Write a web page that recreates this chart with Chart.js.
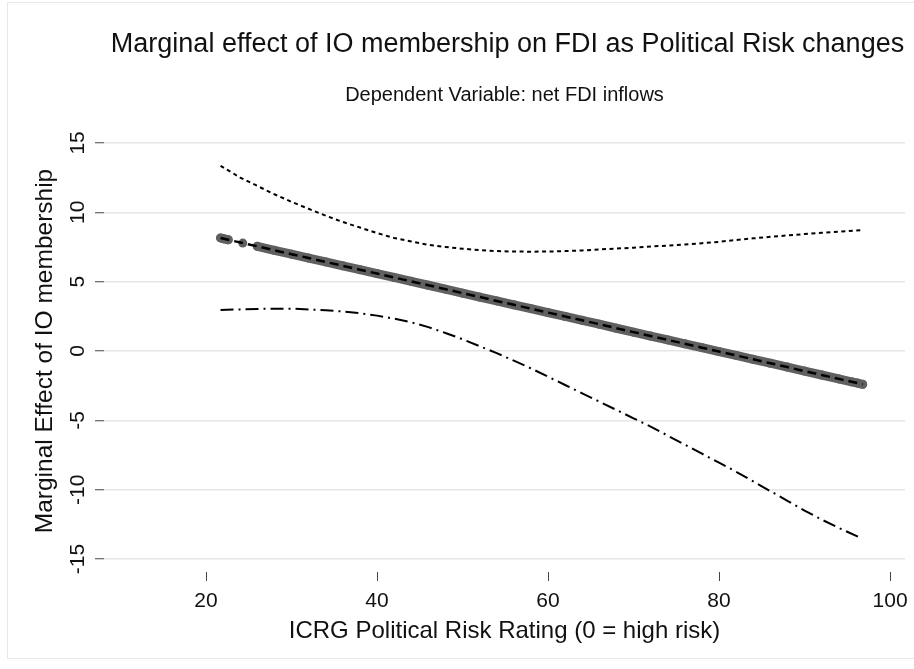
<!DOCTYPE html>
<html>
<head>
<meta charset="utf-8">
<title>Marginal effect of IO membership on FDI</title>
<script src="https://cdn.jsdelivr.net/npm/chart.js@4.4.0/dist/chart.umd.min.js"></script>
<style>
    html, body { margin: 0; padding: 0; background: #fff; }
    #wrap { width: 914px; height: 669px; }
</style>
</head>
<body>
<div id="wrap"><canvas id="effectGraph" width="914" height="669"></canvas></div>
<script>
// texts
const chartTitle = 'Marginal effect of IO membership on FDI as Political Risk changes';
const chartSubtitle = 'Dependent Variable: net FDI inflows';
const xTitle = 'ICRG Political Risk Rating (0 = high risk)';
const yTitle = 'Marginal Effect of IO membership';

// tick values
const xTicks = [20, 40, 60, 80, 100];
const yTicks = [-15, -10, -5, 0, 5, 10, 15];

// marginal effect at the observed risk ratings (grey markers + dashed fit)
const riskX = [21.7, 22.1, 22.6, 24.3, 26, 28, 30, 32, 34, 36, 38, 40, 42, 44, 46, 48, 50, 52, 54, 56,
    58, 60, 62, 64, 66, 68, 70, 72, 74, 76, 78, 80, 82, 84, 86, 88, 90, 92, 94, 95.5, 96.2, 96.8];
const effectY = [8.15, 8.09, 8.02, 7.78, 7.55, 7.26, 6.98, 6.70, 6.42, 6.14, 5.86, 5.58, 5.30, 5.02, 4.74, 4.46, 4.17, 3.89, 3.61, 3.33,
    3.05, 2.77, 2.49, 2.21, 1.93, 1.64, 1.36, 1.08, 0.80, 0.52, 0.24, -0.04, -0.32, -0.60, -0.88, -1.16, -1.45, -1.73, -2.01, -2.22, -2.31, -2.40];
// observations that stand apart from the dense band (by index in riskX)
const isolatedFrom = 2;
const isolatedTo = 4;

// upper bound (short dashes)
const upperX = [21.7, 24, 26, 28, 30, 32, 34, 36, 38, 40, 42, 44, 46, 48, 50, 52, 54, 56, 58, 60,
    62, 64, 66, 68, 70, 72, 74, 76, 78, 80, 82, 84, 86, 88, 90, 92, 94, 96.8];
const upperY = [13.35, 12.5, 11.9, 11.3, 10.75, 10.25, 9.75, 9.3, 8.9, 8.5, 8.15, 7.9, 7.65, 7.5, 7.37, 7.28, 7.2, 7.17, 7.16, 7.17,
    7.2, 7.25, 7.32, 7.38, 7.45, 7.53, 7.6, 7.68, 7.77, 7.87, 8.0, 8.12, 8.23, 8.33, 8.43, 8.52, 8.6, 8.72];

// lower bound (dash-dot)
const lowerX = [21.7, 24, 26, 28, 30, 32, 34, 36, 38, 40, 42, 44, 46, 48, 50, 52, 54, 56, 58, 60,
    62, 64, 66, 68, 70, 72, 74, 76, 78, 80, 82, 84, 86, 88, 90, 92, 94, 96.3];
const lowerY = [2.95, 3.0, 3.03, 3.05, 3.05, 3.0, 2.93, 2.85, 2.72, 2.55, 2.33, 2.07, 1.72, 1.3, 0.85, 0.35, -0.15, -0.7, -1.25, -1.85,
    -2.45, -3.05, -3.65, -4.25, -4.85, -5.45, -6.1, -6.75, -7.4, -8.05, -8.7, -9.4, -10.1, -10.8, -11.5, -12.15, -12.75, -13.4];

const fontFamily = '"Liberation Sans", Arial, Helvetica, sans-serif';
const markerGrey = '#606060';

function toPoints(xs, ys) {
    return xs.map(function (x, i) { return { x: x, y: ys[i] }; });
}

// white background, faint frame and the two titles
const titlePlugin = {
    id: 'graphTitles',
    beforeDraw: function (chart) {
        const ctx = chart.ctx;
        ctx.save();
        ctx.fillStyle = '#ffffff';
        ctx.fillRect(0, 0, chart.width, chart.height);
        ctx.strokeStyle = '#e8e8e8';
        ctx.lineWidth = 1;
        ctx.strokeRect(7.5, 2.5, 1000, 656);
        const mid = (chart.chartArea.left + chart.chartArea.right) / 2;
        ctx.fillStyle = '#111111';
        ctx.textAlign = 'center';
        ctx.textBaseline = 'alphabetic';
        ctx.font = '27px ' + fontFamily;
        ctx.fillText(chartTitle, mid + 3, 52);
        ctx.font = '20px ' + fontFamily;
        ctx.fillText(chartSubtitle, mid, 100.5);
        ctx.restore();
    }
};

const ctx = document.getElementById('effectGraph').getContext('2d');
new Chart(ctx, {
    type: 'scatter',
    data: {
        datasets: [{
            // upper bound
            data: toPoints(upperX, upperY),
            showLine: true,
            borderColor: '#000000',
            borderWidth: 2,
            borderDash: [4, 3.5],
            pointRadius: 0,
            order: 1
        }, {
            // lower bound
            data: toPoints(lowerX, lowerY),
            showLine: true,
            borderColor: '#000000',
            borderWidth: 2,
            borderDash: [13, 5, 2, 5],
            pointRadius: 0,
            order: 1
        }, {
            // fitted marginal effect
            data: toPoints(riskX, effectY),
            showLine: true,
            borderColor: '#000000',
            borderWidth: 2.5,
            borderDash: [9, 5],
            pointRadius: 0,
            order: 2
        }, {
            // observations: dense markers form a band, gaps stay open
            data: toPoints(riskX, effectY),
            showLine: true,
            borderColor: markerGrey,
            borderWidth: 9,
            borderCapStyle: 'round',
            segment: {
                borderColor: function (c) {
                    return (c.p0DataIndex >= isolatedFrom && c.p1DataIndex <= isolatedTo) ? 'rgba(0,0,0,0)' : markerGrey;
                }
            },
            pointRadius: 4.5,
            pointBorderWidth: 0,
            pointBackgroundColor: markerGrey,
            order: 3
        }]
    },
    options: {
        responsive: false,
        animation: false,
        devicePixelRatio: 1,
        layout: { padding: { top: 130, right: 9, bottom: 0, left: 0 } },
        plugins: {
            legend: { display: false },
            tooltip: { enabled: false }
        },
        scales: {
            x: {
                type: 'linear',
                min: 8.07,
                max: 101.75,
                afterBuildTicks: function (s) { s.ticks = xTicks.map(function (v) { return { value: v }; }); },
                afterFit: function (s) { s.height = 97; s.paddingLeft = 0; s.paddingRight = 0; },
                border: { display: false },
                grid: { drawOnChartArea: false, drawTicks: true, tickLength: 9, tickColor: '#444444', tickWidth: 1 },
                ticks: { padding: 8, color: '#111111', maxRotation: 0, font: { family: fontFamily, size: 21 } },
                title: {
                    display: true, text: xTitle, color: '#111111',
                    font: { family: fontFamily, size: 24 },
                    padding: { top: 0, bottom: 23 }
                }
            },
            y: {
                type: 'linear',
                min: -15.93,
                max: 15.93,
                afterBuildTicks: function (s) { s.ticks = yTicks.map(function (v) { return { value: v }; }); },
                afterFit: function (s) { s.width = 104; s.paddingTop = 0; s.paddingBottom = 0; },
                border: { display: false },
                grid: { color: '#e6e6e6', lineWidth: 1.5, tickLength: 9, tickColor: '#444444', tickWidth: 1 },
                ticks: {
                    padding: 2, color: '#111111', minRotation: 90, maxRotation: 90, crossAlign: 'center',
                    font: { family: fontFamily, size: 21 }
                },
                title: {
                    display: true, text: yTitle, color: '#111111',
                    font: { family: fontFamily, size: 24.5 },
                    padding: { top: 30.6, bottom: 0 }
                }
            }
        }
    },
    plugins: [titlePlugin]
});
</script>
</body>
</html>
